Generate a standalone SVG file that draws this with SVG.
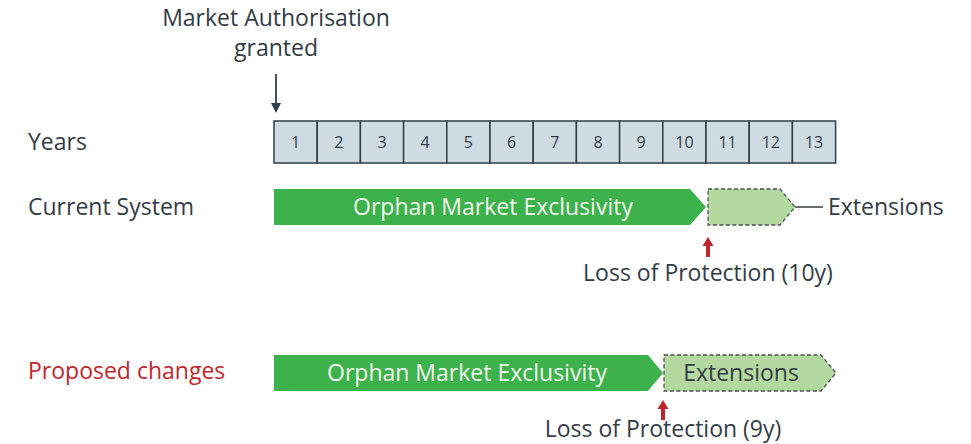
<svg xmlns="http://www.w3.org/2000/svg" width="971" height="444" viewBox="0 0 971 444">
<style>
text{font-family:"Open Sans","Noto Sans",sans-serif;fill:#333c45}
.lbl{font-size:23px}
.num{font-size:16px;text-anchor:middle}
.cell{fill:#cfdbe3;stroke:#2f3e48;stroke-width:1.5}
.ome{fill:#3db14b}
.ext{fill:#b3d9a0;stroke:#4a4f55;stroke-width:1.3;stroke-dasharray:4 2.5}
.wt{fill:#f2f8ef;font-size:23px;text-anchor:middle}
.red{fill:#c0262d}
</style>
<rect width="971" height="444" fill="#fff"/>
<g id="ma-label">
<text class="lbl" x="276" y="26" text-anchor="middle">Market Authorisation</text>
<text class="lbl" x="276" y="56" text-anchor="middle">granted</text>
</g>
<g id="connectors">
<line x1="276" y1="74" x2="276" y2="104" stroke="#2f3e48" stroke-width="1.8"/>
<path d="M271,103 L281,103 L276,113 Z" fill="#2f3e48"/>
<line x1="795" y1="207" x2="823" y2="207" stroke="#333c45" stroke-width="1.5"/>
<rect x="706" y="245" width="4" height="12" class="red"/>
<path d="M702.5,246 L708,237 L713.5,246 Z" class="red"/>
<rect x="661" y="408" width="4" height="12" class="red"/>
<path d="M657.5,409 L663,400 L668.5,409 Z" class="red"/>
</g>
<g id="years-label"><text class="lbl" x="28" y="150">Years</text></g>
<g id="years">
<rect class="cell" x="274" y="121" width="43.2" height="42"/>
<rect class="cell" x="317.2" y="121" width="43.2" height="42"/>
<rect class="cell" x="360.4" y="121" width="43.2" height="42"/>
<rect class="cell" x="403.6" y="121" width="43.2" height="42"/>
<rect class="cell" x="446.8" y="121" width="43.2" height="42"/>
<rect class="cell" x="490" y="121" width="43.2" height="42"/>
<rect class="cell" x="533.2" y="121" width="43.2" height="42"/>
<rect class="cell" x="576.4" y="121" width="43.2" height="42"/>
<rect class="cell" x="619.6" y="121" width="43.2" height="42"/>
<rect class="cell" x="662.8" y="121" width="43.2" height="42"/>
<rect class="cell" x="706" y="121" width="43.2" height="42"/>
<rect class="cell" x="749.2" y="121" width="43.2" height="42"/>
<rect class="cell" x="792.4" y="121" width="43.2" height="42"/>
<text class="num" x="295.6" y="148">1</text>
<text class="num" x="338.8" y="148">2</text>
<text class="num" x="382" y="148">3</text>
<text class="num" x="425.2" y="148">4</text>
<text class="num" x="468.4" y="148">5</text>
<text class="num" x="511.6" y="148">6</text>
<text class="num" x="554.8" y="148">7</text>
<text class="num" x="598" y="148">8</text>
<text class="num" x="641.2" y="148">9</text>
<text class="num" x="684.4" y="148">10</text>
<text class="num" x="727.6" y="148">11</text>
<text class="num" x="770.8" y="148">12</text>
<text class="num" x="814" y="148">13</text>
</g>
<g id="current-label"><text class="lbl" x="28" y="215">Current System</text></g>
<g id="current-ome">
<path class="ome" d="M274,189 H690 L706,207 L690,225 H274 Z"/>
<text class="wt" x="493" y="215">Orphan Market Exclusivity</text>
</g>
<g id="current-ext">
<path class="ext" d="M708,189 H780 L795,207 L780,225 H708 Z"/>
<text class="lbl" x="828" y="215">Extensions</text>
</g>
<g id="current-loss">
<text class="lbl" x="708" y="281" text-anchor="middle">Loss of Protection (10y)</text>
</g>
<g id="proposed-label"><text class="lbl" x="28" y="379" style="fill:#c0272d">Proposed changes</text></g>
<g id="proposed-ome">
<path class="ome" d="M274,355 H648 L663,373 L648,391 H274 Z"/>
<text class="wt" x="467" y="381">Orphan Market Exclusivity</text>
</g>
<g id="proposed-ext">
<path class="ext" d="M664,355 H821 L836,373 L821,391 H664 Z"/>
<text class="lbl" x="741" y="381" text-anchor="middle">Extensions</text>
</g>
<g id="proposed-loss">
<text class="lbl" x="663" y="437" text-anchor="middle">Loss of Protection (9y)</text>
</g>
</svg>
